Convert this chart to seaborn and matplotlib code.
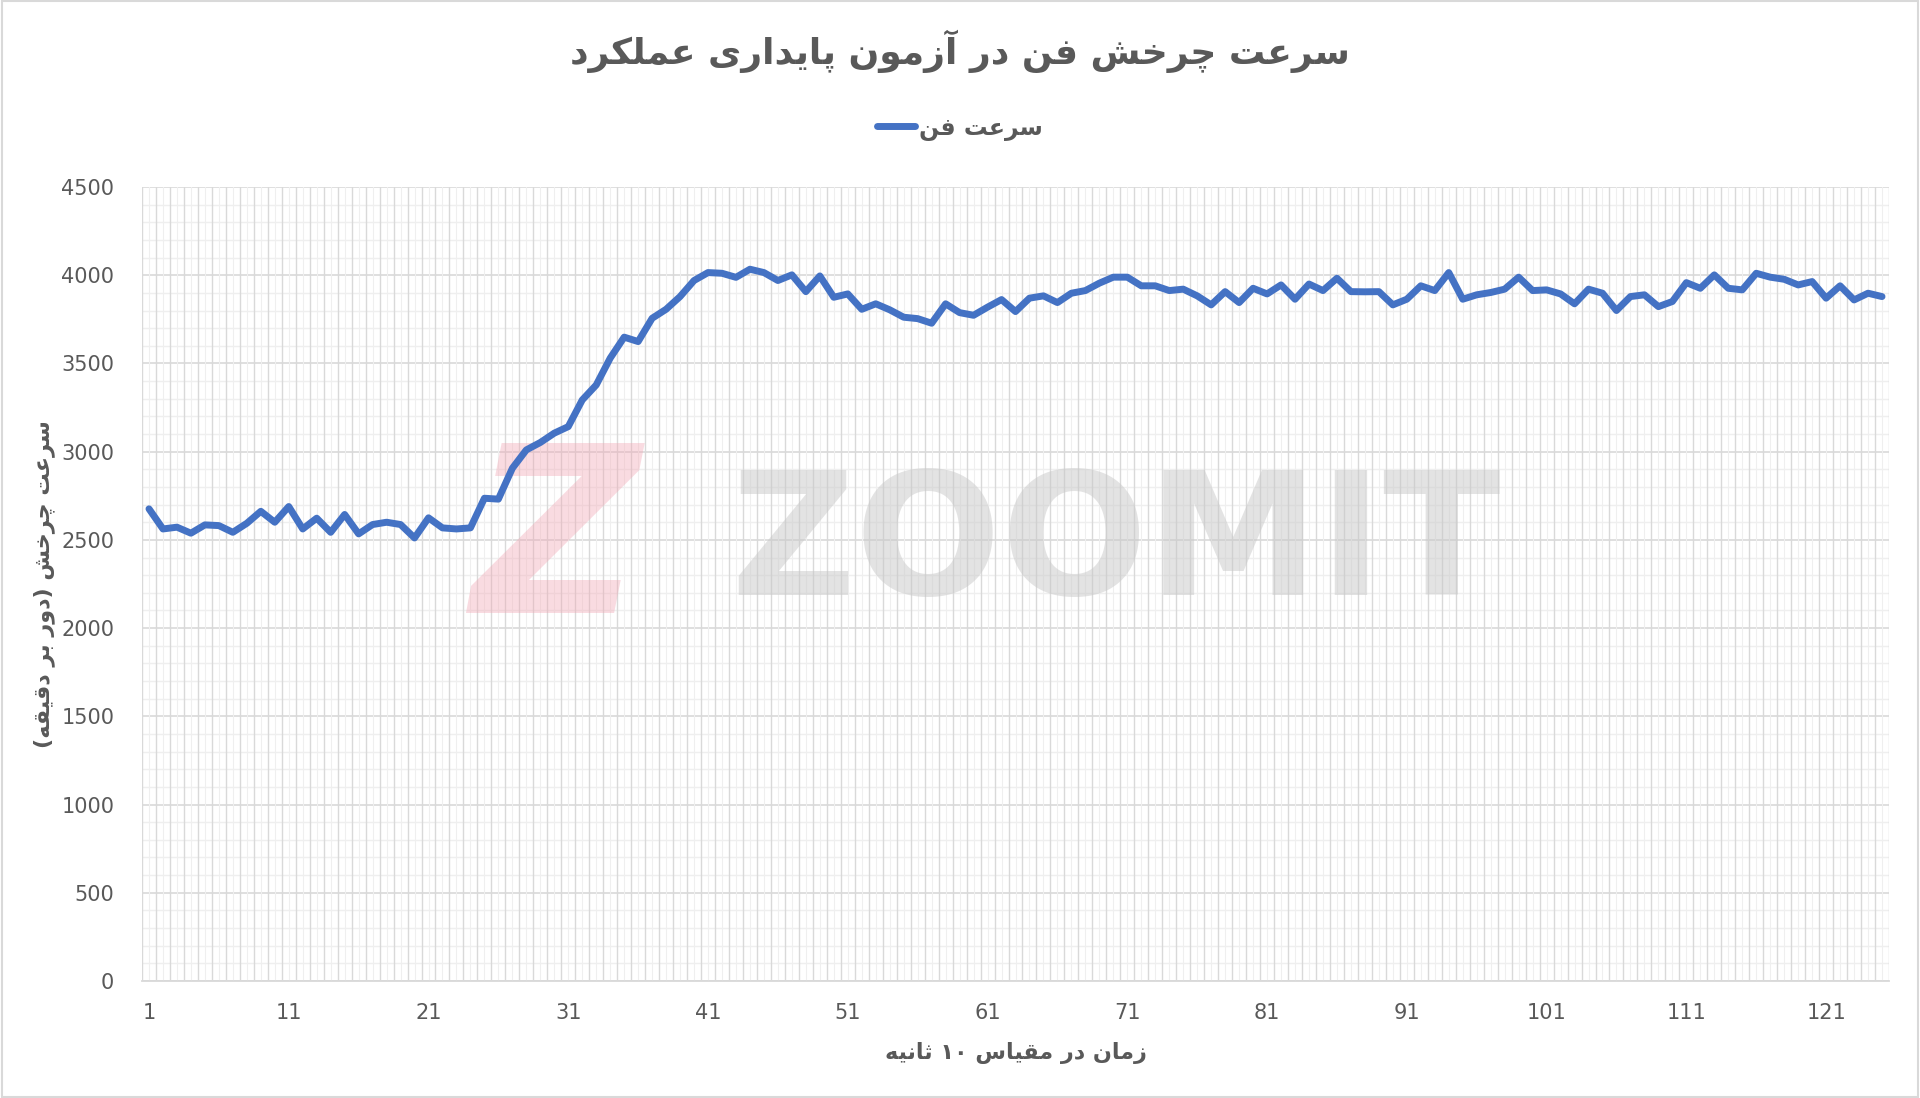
# Fan speed in the performance stability test - line chart

# ---------------------------
# 1. Import Libraries
# ---------------------------
import numpy as np
import matplotlib
matplotlib.use("Agg")
import matplotlib.pyplot as plt
from matplotlib.patches import Rectangle
import seaborn as sns

# ---------------------------
# 2. Data
# ---------------------------
title_text = "سرعت چرخش فن در آزمون پایداری عملکرد"
series_name = "سرعت فن"
x_label_text = "زمان در مقیاس ۱۰ ثانیه"
y_label_text = "سرعت چرخش (دور بر دقیقه)"

fan_speed = [
    2676, 2562, 2572, 2538, 2585, 2581, 2543, 2594, 2662, 2600,
    2689, 2562, 2623, 2543, 2644, 2534, 2587, 2600, 2587, 2511,
    2625, 2568, 2562, 2568, 2736, 2731, 2906, 3010, 3052, 3105,
    3142, 3293, 3378, 3530, 3649, 3624, 3756, 3807, 3879, 3970,
    4015, 4011, 3988, 4034, 4015, 3970, 4002, 3907, 3996, 3875,
    3894, 3807, 3838, 3804, 3762, 3754, 3728, 3838, 3788, 3773,
    3819, 3862, 3794, 3870, 3883, 3845, 3898, 3913, 3955, 3989,
    3989, 3940, 3940, 3913, 3921, 3883, 3832, 3907, 3845, 3926,
    3894, 3945, 3864, 3950, 3913, 3983, 3907, 3906, 3907, 3832,
    3864, 3940, 3913, 4015, 3864, 3889, 3902, 3921, 3989, 3913,
    3917, 3894, 3838, 3921, 3898, 3800, 3879, 3889, 3822, 3851,
    3958, 3926, 4002, 3926, 3917, 4011, 3989, 3977, 3945, 3964,
    3870, 3940, 3860, 3898, 3879,
]
time_steps = list(range(1, len(fan_speed) + 1))
x_tick_values = list(range(1, len(fan_speed) + 1, 10))
y_tick_values = list(range(0, 4501, 500))

# ---------------------------
# 3. Persian text shaping (matplotlib has no bidi / joining)
# ---------------------------
# letter: (isolated, final, initial, medial) ; None = does not join forward
FORMS = {
    "ا": ("\uFE8D", "\uFE8E", None, None),
    "آ": ("\uFE81", "\uFE82", None, None),
    "د": ("\uFEA9", "\uFEAA", None, None),
    "ر": ("\uFEAD", "\uFEAE", None, None),
    "ز": ("\uFEAF", "\uFEB0", None, None),
    "و": ("\uFEED", "\uFEEE", None, None),
    "ب": ("\uFE8F", "\uFE90", "\uFE91", "\uFE92"),
    "پ": ("\uFB56", "\uFB57", "\uFB58", "\uFB59"),
    "ت": ("\uFE95", "\uFE96", "\uFE97", "\uFE98"),
    "ث": ("\uFE99", "\uFE9A", "\uFE9B", "\uFE9C"),
    "چ": ("\uFB7A", "\uFB7B", "\uFB7C", "\uFB7D"),
    "خ": ("\uFEA5", "\uFEA6", "\uFEA7", "\uFEA8"),
    "س": ("\uFEB1", "\uFEB2", "\uFEB3", "\uFEB4"),
    "ش": ("\uFEB5", "\uFEB6", "\uFEB7", "\uFEB8"),
    "ع": ("\uFEC9", "\uFECA", "\uFECB", "\uFECC"),
    "ف": ("\uFED1", "\uFED2", "\uFED3", "\uFED4"),
    "ق": ("\uFED5", "\uFED6", "\uFED7", "\uFED8"),
    "ک": ("\uFB8E", "\uFB8F", "\uFB90", "\uFB91"),
    "ل": ("\uFEDD", "\uFEDE", "\uFEDF", "\uFEE0"),
    "م": ("\uFEE1", "\uFEE2", "\uFEE3", "\uFEE4"),
    "ن": ("\uFEE5", "\uFEE6", "\uFEE7", "\uFEE8"),
    "ه": ("\uFEE9", "\uFEEA", "\uFEEB", "\uFEEC"),
    "ی": ("\uFBFC", "\uFBFD", "\uFBFE", "\uFBFF"),
}


def fa(text):
    out = []
    for i, ch in enumerate(text):
        if ch not in FORMS:
            out.append(ch)
            continue
        prev = text[i - 1] if i > 0 else ""
        nxt = text[i + 1] if i + 1 < len(text) else ""
        join_prev = prev in FORMS and FORMS[prev][2] is not None
        join_next = FORMS[ch][2] is not None and nxt in FORMS
        iso, fin, ini, med = FORMS[ch]
        if join_prev and join_next:
            out.append(med)
        elif join_prev:
            out.append(fin)
        elif join_next:
            out.append(ini)
        else:
            out.append(iso)
    words = "".join(out).split(" ")
    visual = []
    for w in reversed(words):
        if w.isdigit():
            visual.append(w)
        else:
            visual.append(w[::-1].translate(str.maketrans("()", ")(")))
    return " ".join(visual)


# ---------------------------
# 4. Style
# ---------------------------
sns.set_style("white")
plt.rcParams["font.family"] = ["DejaVu Sans"]

TEXT = "#595959"
BLUE = "#4472C4"
GRID_MAJOR = "#D9D9D9"
GRID_MINOR = "#EFEFEF"

fig = plt.figure(figsize=(19.2, 10.98), dpi=100)
ax = fig.add_axes([142 / 1920, 117 / 1098, 1747 / 1920, 794 / 1098])

# ---------------------------
# 5. Grid
# ---------------------------
n = len(fan_speed)
ax.set_xlim(0.5, n + 0.5)
ax.set_ylim(0, 4500)

for v in range(0, 4501, 100):
    ax.axhline(v, color=GRID_MAJOR if v % 500 == 0 else GRID_MINOR,
               lw=1.2 if v % 500 == 0 else 1.0, zorder=0)
for k in range(n + 1):
    ax.axvline(k + 0.5, color=GRID_MAJOR, lw=1.0, zorder=0)
for k in range(1, n + 1):
    ax.axvline(k, color=GRID_MINOR, lw=0.8, zorder=0)

# ---------------------------
# 6. Watermark
# ---------------------------
ax.text(0.237, 0.545, "Z", transform=ax.transAxes, fontsize=168,
        fontweight="bold", style="italic", color="#F2A7B5", alpha=0.4,
        ha="center", va="center", zorder=1)
ax.text(0.5575, 0.545, "ZOOMIT", transform=ax.transAxes, fontsize=124,
        fontweight="bold", color="#C8C8C8", alpha=0.5,
        ha="center", va="center", zorder=1)

# ---------------------------
# 7. Line
# ---------------------------
sns.lineplot(x=time_steps, y=fan_speed, ax=ax, color=BLUE, linewidth=5,
             label=fa(series_name), zorder=3)

# ---------------------------
# 8. Axes, labels, legend
# ---------------------------
for side in ["left", "right", "top"]:
    ax.spines[side].set_visible(False)
ax.spines["bottom"].set_color(GRID_MAJOR)
ax.spines["bottom"].set_linewidth(1.3)

ax.set_xticks(x_tick_values)
ax.set_xticklabels([str(v) for v in x_tick_values])
ax.set_yticks(y_tick_values)
ax.set_yticklabels([str(v) for v in y_tick_values])
ax.tick_params(axis="both", length=0, labelsize=15, colors=TEXT)
ax.tick_params(axis="x", pad=16)
ax.tick_params(axis="y", pad=20)

ax.set_xlabel(fa(x_label_text), fontsize=16, fontweight="bold", color=TEXT)
ax.xaxis.set_label_coords(0.5, -0.077)
ax.set_ylabel(fa(y_label_text), fontsize=16, fontweight="bold", color=TEXT)
ax.yaxis.set_label_coords(-0.05, 0.5)

fig.text(0.5, 1 - 51 / 1098, fa(title_text), fontsize=26, fontweight="bold",
         color=TEXT, ha="center", va="center")

leg = ax.legend(loc="center", bbox_to_anchor=(0.5, 1 - 128 / 1098),
                bbox_transform=fig.transFigure, frameon=False,
                handlelength=1.6, handletextpad=0.15,
                prop={"size": 17, "weight": "bold"})
for t in leg.get_texts():
    t.set_color(TEXT)

# chart border
fig.patches.append(Rectangle((0.001, 0.001), 0.998, 0.998,
                             transform=fig.transFigure, fill=False,
                             edgecolor=GRID_MAJOR, lw=1.5))

# ---------------------------
# 9. Save
# ---------------------------
fig.savefig("out.png", dpi=100)
